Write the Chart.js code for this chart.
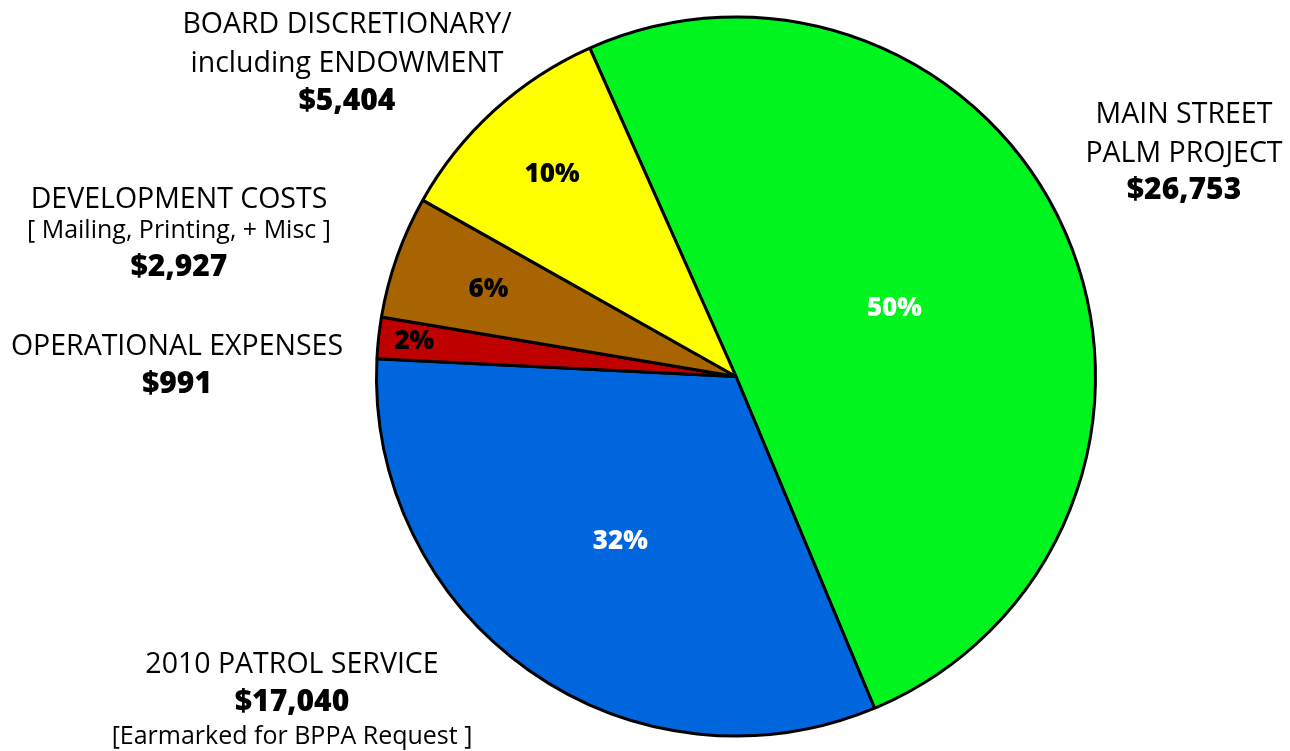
<!DOCTYPE html>
<html><head><meta charset="utf-8">
<script src="https://cdn.jsdelivr.net/npm/chart.js@4/dist/chart.umd.min.js"></script>
<style>html,body{margin:0;padding:0;background:#fff}#wrap{width:1290px;height:751px;position:relative}</style>
</head><body><div id="wrap"><canvas id="c" width="1290" height="751"></canvas></div>
<script>
const categories = ["MAIN STREET PALM PROJECT","2010 PATROL SERVICE","OPERATIONAL EXPENSES","DEVELOPMENT COSTS","BOARD DISCRETIONARY/ including ENDOWMENT"];
const amounts = [26753, 17040, 991, 2927, 5404];
const amountLabels = ["$26,753","$17,040","$991","$2,927","$5,404"];
const percentLabels = ["50%","32%","2%","6%","10%"];
const colors = ["#00F41E","#0066DD","#BE0000","#A86400","#FFFF00"];
const pctColors = ["#ffffff","#ffffff","#000000","#000000","#000000"];
const pctRadius = [0.48,0.56,0.90,0.73,0.76];
// outside label blocks: lines [text, style, baselineY], centre x
const outside = [
  {x:1184, lines:[["MAIN STREET","n",123],["PALM PROJECT","n",162],[amountLabels[0],"b",199]]},
  {x:292, lines:[["2010 PATROL SERVICE","n",673],[amountLabels[1],"b",711],["[Earmarked for BPPA Request ]","s",744]]},
  {x:177, lines:[["OPERATIONAL EXPENSES","n",355],[amountLabels[2],"b",393]]},
  {x:179, lines:[["DEVELOPMENT COSTS","n",208],["[ Mailing, Printing, + Misc ]","s",238],[amountLabels[3],"b",276]]},
  {x:347, lines:[["BOARD DISCRETIONARY/","n",33],["including ENDOWMENT","n",72],[amountLabels[4],"b",110]]}
];
const labelPlugin = {
  id:'labels',
  afterDatasetsDraw(chart){
    const ctx = chart.ctx;
    const meta = chart.getDatasetMeta(0);
    ctx.save();
    ctx.textAlign='center';
    meta.data.forEach((arc,i)=>{
      const p = arc.getProps(['x','y','startAngle','endAngle','outerRadius'],true);
      const mid=(p.startAngle+p.endAngle)/2;
      const r=p.outerRadius*pctRadius[i];
      ctx.fillStyle=pctColors[i];
      ctx.font='800 26px "Open Sans", "Noto Sans", sans-serif';
      ctx.textBaseline='middle';
      ctx.fillText(percentLabels[i], p.x+Math.cos(mid)*r, p.y+Math.sin(mid)*r);
    });
    ctx.textBaseline='alphabetic';
    ctx.fillStyle='#000';
    outside.forEach(o=>{
      o.lines.forEach(([t,s,y])=>{
        if(s==='b') ctx.font='800 30px "Open Sans", "Noto Sans", sans-serif';
        else if(s==='s') ctx.font='400 25px "Open Sans", "Noto Sans", sans-serif';
        else ctx.font='400 28.5px "Open Sans", "Noto Sans", sans-serif';
        ctx.fillText(t,o.x,y);
      });
    });
    ctx.restore();
  }
};
new Chart(document.getElementById('c'),{
  type:'pie',
  data:{labels:categories,datasets:[{data:amounts,backgroundColor:colors,borderColor:'#000',borderWidth:3,hoverOffset:0}]},
  options:{
    responsive:false,animation:false,
    rotation:-24,
    layout:{padding:{left:375,right:193,top:15,bottom:13}},
    plugins:{legend:{display:false},tooltip:{enabled:false}}
  },
  plugins:[labelPlugin]
});
</script></body></html>
